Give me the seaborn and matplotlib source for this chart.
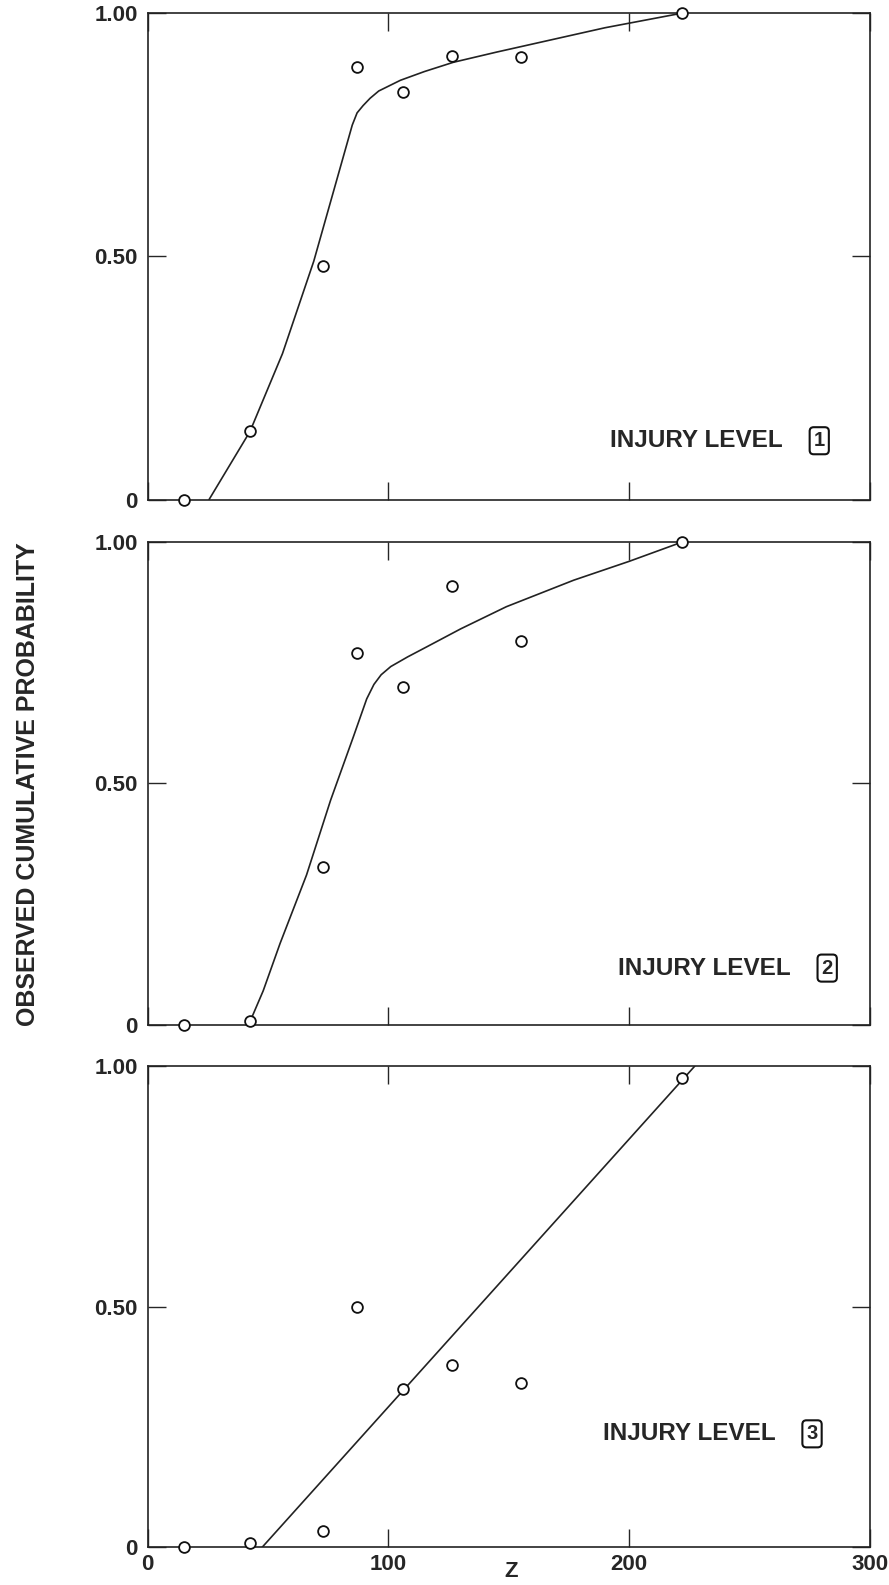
import numpy as np
import pandas as pd
import seaborn as sns
import matplotlib.pyplot as plt

# observed points (same z for all levels)
z_obs = [15, 42.5, 73, 87, 106, 126.5, 155, 222]
p_lvl1 = [0.0, 0.14, 0.48, 0.89, 0.838, 0.912, 0.91, 1.0]
p_lvl2 = [0.0, 0.008, 0.327, 0.771, 0.70, 0.909, 0.794, 1.0]
p_lvl3 = [0.0, 0.01, 0.035, 0.50, 0.33, 0.38, 0.342, 0.975]

# fitted curves
z_fit1 = [25.5, 34, 42.5, 56, 69, 77, 85, 87, 89.5, 92.4, 96, 105, 115, 127, 145, 163, 190, 222]
p_fit1 = [0.0, 0.07, 0.14, 0.30, 0.49, 0.63, 0.77, 0.795, 0.81, 0.825, 0.84, 0.862,
          0.88, 0.899, 0.92, 0.94, 0.97, 1.0]
z_fit2 = [42, 48, 55, 66, 76, 85.5, 91, 94, 97, 101, 108, 116, 130, 149, 177, 200, 222]
p_fit2 = [0.0, 0.07, 0.168, 0.31, 0.465, 0.597, 0.675, 0.705, 0.725, 0.742, 0.762,
          0.783, 0.82, 0.866, 0.921, 0.96, 1.0]
z_fit3 = [47.5, 227.3]
p_fit3 = [0.0, 1.0]

levels = ['1', '2', '3']
label_pos = [(0.640, 0.121), (0.651, 0.117), (0.630, 0.236)]

sns.set_style("ticks")
plt.rcParams['font.family'] = ['Liberation Sans', 'DejaVu Sans']
plt.rcParams['font.weight'] = 'bold'

fig = plt.figure(figsize=(8.89, 15.85), dpi=100)
boxes = [[0.1661, 0.6848, 0.8123, 0.3069],
         [0.1661, 0.3536, 0.8123, 0.3044],
         [0.1661, 0.0237, 0.8123, 0.3037]]

obs = [p_lvl1, p_lvl2, p_lvl3]
fits = [(z_fit1, p_fit1), (z_fit2, p_fit2), (z_fit3, p_fit3)]

for i in range(3):
    ax = fig.add_axes(boxes[i])
    zf, pf = fits[i]
    sns.lineplot(x=zf, y=pf, ax=ax, color='#222222', lw=1.2)
    sns.scatterplot(x=z_obs, y=obs[i], ax=ax, marker='o', s=60,
                    facecolor='white', edgecolor='#111111', linewidth=1.3,
                    zorder=5, clip_on=False)
    ax.set_xlim(0, 300)
    ax.set_ylim(0, 1.0)
    ax.set_xticks([0, 100, 200, 300])
    ax.set_yticks([0, 0.5, 1.0])
    ax.set_yticklabels(['0', '0.50', '1.00'])
    ax.tick_params(direction='in', top=True, right=True, length=13,
                   width=1.0, labelsize=16)
    ax.tick_params(axis='y', pad=7)
    ax.tick_params(axis='x', pad=5)
    for sp in ax.spines.values():
        sp.set_linewidth(1.2)
        sp.set_color('#222222')
    if i < 2:
        ax.set_xticklabels([])
    else:
        ax.set_xticklabels(['0', '100', '200', '300'])
    tx, ty = label_pos[i]
    ax.text(tx, ty, 'INJURY LEVEL', transform=ax.transAxes, fontsize=17.5,
            fontweight='bold', va='center', ha='left')
    ax.text(tx + 0.29, ty, levels[i], transform=ax.transAxes, fontsize=14.5,
            fontweight='bold', va='center', ha='center',
            bbox=dict(boxstyle='round,pad=0.2', fc='white', ec='#111111', lw=1.5))

fig.text(0.5745, 0.0085, 'Z', fontsize=16, fontweight='bold', va='center', ha='center')
fig.text(0.031, 0.505, 'OBSERVED CUMULATIVE PROBABILITY', rotation=90,
         fontsize=18, fontweight='bold', va='center', ha='center')

fig.savefig('out.png', dpi=100)
